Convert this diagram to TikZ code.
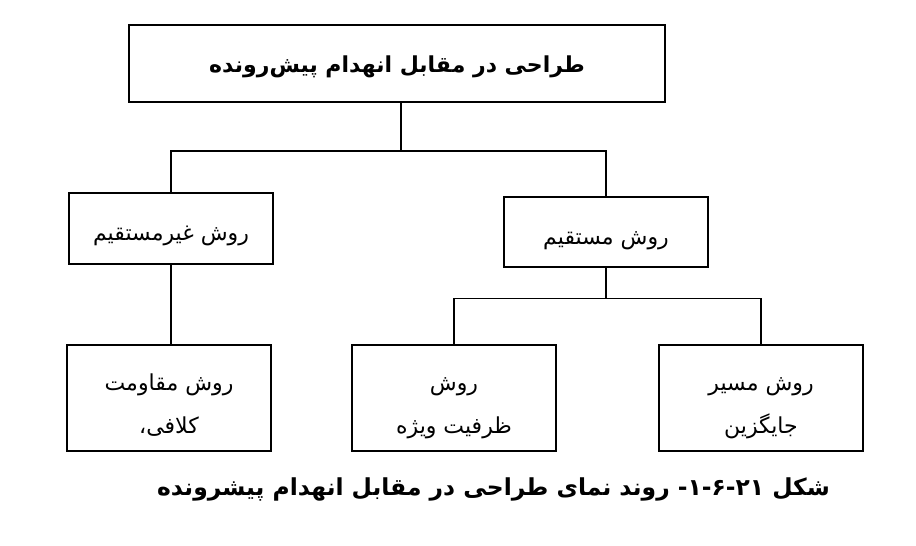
\documentclass[tikz,border=0pt]{standalone}
\usepackage{fontspec}
\newfontfamily\arabicfont[Script=Arabic]{DejaVu Sans}
\TeXXeTstate=1
\usetikzlibrary{calc}

\begin{document}
\begin{tikzpicture}[x=1pt, y=-1pt, line width=1.4pt,
    kasten/.style={draw, line width=1.4pt, inner sep=0pt, minimum width=204pt,
        minimum height=71pt, align=center, text height=32pt, text depth=8pt,
        font=\arabicfont\fontsize{22}{43}\selectfont},
    kasten-hoch/.style={kasten, minimum height=106pt, text height=74pt, text depth=4pt},
    titel-schrift/.style={font=\arabicfont\bfseries\fontsize{22}{26}\selectfont}]

    \useasboundingbox (0,0) rectangle (916,546);

    \node[kasten, titel-schrift, minimum width=536pt, minimum height=77pt,
        text height=28pt, text depth=11pt] (titel) at (397,63.5)
        {\beginR طراحی در مقابل انهدام پیش‌رونده\endR};

    \node[kasten] (indirekt) at (171,228.5) {\beginR روش غیرمستقیم\endR};
    \node[kasten, minimum height=70pt] (direkt) at (606,232) {\beginR روش مستقیم\endR};

    \node[kasten-hoch] (kalafi) at (169,398) {\beginR روش مقاومت\endR\\\beginR کلافی،\endR};
    \node[kasten-hoch] (zarfiat) at (454,398) {\beginR روش\endR\\\beginR ظرفیت ویژه\endR};
    \node[kasten-hoch] (masir) at (761,398) {\beginR روش مسیر\endR\\\beginR جایگزین\endR};

    % erste Verzweigung
    \draw (titel.south -| 401,0) -- (401,151) coordinate (gabel1);
    \draw (indirekt.north) |- (gabel1) -| (direkt.north);

    % zweite Verzweigung
    \draw (direkt.south) -- ++(0,31) coordinate (gabel2);
    \draw (zarfiat.north) |- (gabel2) -| (masir.north);

    \draw (indirekt.south) -- (kalafi.north -| indirekt.south);

    \node[titel-schrift, font=\arabicfont\bfseries\fontsize{23.4}{26}\selectfont,
        text height=24pt, text depth=10pt, inner sep=0pt] (unterschrift) at (493.5,488)
        {\beginR شکل ۲۱\kern0pt-\kern0pt۶\kern0pt-\kern0pt۱\kern0pt- روند نمای طراحی در مقابل انهدام پیشرونده\endR};

\end{tikzpicture}
\end{document}
